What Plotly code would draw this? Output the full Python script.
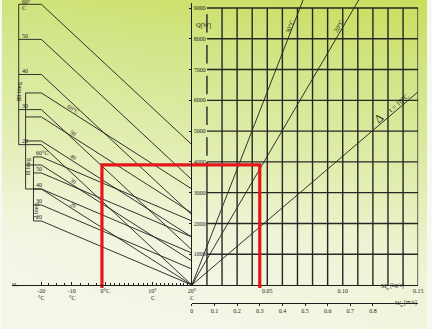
import math
import numpy as np
import plotly.graph_objects as go

# ---------------- data ----------------
SPEEDS = ["III bieg", "II bieg", "I bieg"]
SPEED_K = [114, 78, 52]                  # W/K  (heat output per K of t_w - t_air)
WATER_TEMPS = [60, 50, 40, 30, 20]       # °C
T_AIR_START, T_AIR_END = -20, 20         # °C

T_TICKS = [-20, -10, 0, 10, 20]
T_TICK_TEXT = ["-20", "-10", "0°C", "10°", "20°"]
T_TICK_UNIT = ["°C", "°C", "", "C", "C"]
T_MINOR = [-17.5, -15, -12.5, -7.5, -5, -2.5, 1, 2, 3, 4, 5, 6, 7, 8, 9,
           11, 12, 13, 14, 15, 16, 17, 18, 19]

DELTA_T = [30, 20, 10]                   # K
DELTA_LABELS = ["30°C", "20°C", "t = 10°C"]
CP_WATER = 4186                          # J/(kg K)

Q_TICKS = [1000, 2000, 3000, 4000, 5000, 6000, 7000, 8000, 9000]
M_GRID = [0.01, 0.02, 0.03, 0.04, 0.05, 0.06, 0.07, 0.08, 0.09, 0.10,
          0.11, 0.12, 0.13, 0.14, 0.15]
M_TICKS = [0.05, 0.10, 0.15]
M_TICK_TEXT = ["0.05", "0.10", "0.15"]
W_TICKS = [0, 0.1, 0.2, 0.3, 0.4, 0.5, 0.6, 0.7, 0.8]
W_TICK_TEXT = ["0", "0.1", "0.2", "0.3", "0.4", "0.5", "0.6", "0.7", "0.8"]
M_PER_W = 0.15                           # kg/s per m/s

EX_Q, EX_T, EX_W = 3900, -1.0, 0.3       # worked example (red)

# ---------------- layout constants (pixels of the 432x329 canvas) ----------------
W, H = 432, 329
X_LEFT0, X_AXIS, X_RIGHT = 10, 193, 423
Y_Q0, Y_QTOP = 285, 8
Y_WAXIS = 302.7
Q_PER_PX = 9000 / (Y_Q0 - Y_QTOP)
Q_AXIS_TOP = 9150
T_SCALE_U = [40, 71, 105, 153, 193]      # nomogram scale positions of T_TICKS
BRACKET_U = [17, 24, 32]
LINE_LABEL_U = 72
INK = "#1d1d1d"
TXT = "#222222"
RED = "#e3171c"
FONT = "Liberation Serif"


def tpos(t):
    return float(np.interp(t, T_TICKS, T_SCALE_U))


def px(x):
    return x / W


def py(y):
    return 1 - y / H


Y2_RANGE = [(Y_Q0 - H) * Q_PER_PX, Y_Q0 * Q_PER_PX]
RED_BOTTOM = -3 * Q_PER_PX

fig = go.Figure()

# background gradient
BG_X = [0, 0.25, 0.5, 0.75, 1]
BG_Y = [0, 0.25, 0.5, 0.75, 1]
BG_Z = [[0.05, 0.05, 0.07, 0.12, 0.20],
        [0.10, 0.15, 0.20, 0.28, 0.35],
        [0.42, 0.45, 0.50, 0.55, 0.60],
        [0.65, 0.68, 0.72, 0.76, 0.80],
        [0.85, 0.90, 0.93, 0.97, 1.00]]
BG_SCALE = [[0, "#f6f7ef"], [0.3, "#eef4d4"], [0.55, "#e0edae"],
            [0.8, "#d2e588"], [1, "#c9de5c"]]
fig.add_trace(go.Heatmap(x=BG_X, y=BG_Y, z=BG_Z, colorscale=BG_SCALE, zmin=0, zmax=1,
                         zsmooth="best", showscale=False, hoverinfo="skip",
                         xaxis="x", yaxis="y"))

# left panel: fan-speed lines
xs, ys = [], []
for k, ub in zip(SPEED_K, BRACKET_U):
    for tw in WATER_TEMPS:
        q0 = k * (tw - T_AIR_START)
        q1 = k * (tw - T_AIR_END)
        xs += [ub, tpos(T_AIR_START), tpos(T_AIR_END), None]
        ys += [q0, q0, q1, None]
    xs += [ub, ub, None]
    ys += [k * (WATER_TEMPS[0] - T_AIR_START), k * (WATER_TEMPS[-1] - T_AIR_START), None]
fig.add_trace(go.Scatter(x=xs, y=ys, mode="lines", line=dict(color=INK, width=0.9),
                         hoverinfo="skip", xaxis="x2", yaxis="y2", showlegend=False))

# right panel grid
gx, gy = [], []
for q in Q_TICKS:
    gx += [M_GRID[0], M_GRID[-1], None]
    gy += [q, q, None]
for m in M_GRID[1:]:
    gx += [m, m, None]
    gy += [0, Q_TICKS[-1], None]
gx += [M_GRID[0], M_GRID[0], None]
gy += [0, 4000, None]
for q in Q_TICKS[3:8]:
    gx += [M_GRID[0], M_GRID[0], None]
    gy += [q + 200, q + 800, None]
fig.add_trace(go.Scatter(x=gx, y=gy, mode="lines", line=dict(color="#262626", width=1.4),
                         hoverinfo="skip", xaxis="x3", yaxis="y3", showlegend=False))

# right panel: Q = cp * dT * M
for dt in DELTA_T:
    m_end = min(M_GRID[-1], Y2_RANGE[1] / (CP_WATER * dt))
    fig.add_trace(go.Scatter(x=[0, m_end], y=[0, CP_WATER * dt * m_end], mode="lines",
                             line=dict(color=INK, width=0.9), hoverinfo="skip",
                             xaxis="x3", yaxis="y2", showlegend=False))

# red worked example
fig.add_trace(go.Scatter(x=[tpos(EX_T), tpos(EX_T), tpos(T_AIR_END)],
                         y=[RED_BOTTOM, EX_Q, EX_Q], mode="lines",
                         line=dict(color=RED, width=3.2), hoverinfo="skip",
                         xaxis="x2", yaxis="y2", showlegend=False))
fig.add_trace(go.Scatter(x=[0, EX_W, EX_W], y=[EX_Q, EX_Q, RED_BOTTOM], mode="lines",
                         line=dict(color=RED, width=3.2), hoverinfo="skip",
                         xaxis="x4", yaxis="y2", showlegend=False))

ann = []


def fnt(size):
    return dict(family=FONT, size=size, color=TXT)


# stub labels: III bieg
k3 = SPEED_K[0]
ann.append(dict(x=BRACKET_U[0] + 1.5, y=k3 * (WATER_TEMPS[0] - T_AIR_START), xref="x2", yref="y2",
                text="60°", showarrow=False, xanchor="left", yshift=2.5, font=fnt(6)))
ann.append(dict(x=BRACKET_U[0] + 1.5, y=k3 * (WATER_TEMPS[0] - T_AIR_START), xref="x2", yref="y2",
                text="C", showarrow=False, xanchor="left", yshift=-3.5, font=fnt(6)))
for tw in WATER_TEMPS[1:]:
    ann.append(dict(x=BRACKET_U[0] + 1.5, y=k3 * (tw - T_AIR_START), xref="x2", yref="y2",
                    text=str(tw), showarrow=False, xanchor="left", yshift=3.5, font=fnt(6)))
# stub labels: I bieg
k1 = SPEED_K[2]
for i, tw in enumerate(WATER_TEMPS):
    ann.append(dict(x=BRACKET_U[2] + 1, y=k1 * (tw - T_AIR_START), xref="x2", yref="y2",
                    text="60°C" if i == 0 else str(tw), showarrow=False,
                    xanchor="left", yshift=3.5, font=fnt(6)))
# line labels: II bieg
k2 = SPEED_K[1]
u0, u1 = tpos(T_AIR_START), tpos(T_AIR_END)
for i, tw in enumerate(WATER_TEMPS):
    q0 = k2 * (tw - T_AIR_START)
    q1 = k2 * (tw - T_AIR_END)
    q = q0 + (LINE_LABEL_U - u0) / (u1 - u0) * (q1 - q0)
    ang = math.degrees(math.atan(((q0 - q1) / Q_PER_PX) / (u1 - u0)))
    ann.append(dict(x=LINE_LABEL_U, y=q, xref="x2", yref="y2",
                    text="60°C" if i == 0 else str(tw), showarrow=False,
                    textangle=ang, yshift=4, font=fnt(6)))

# second line of the temperature tick labels
for t, unit in zip(T_TICKS, T_TICK_UNIT):
    if unit:
        ann.append(dict(x=tpos(t), y=0, xref="x2", yref="y2", text=unit, showarrow=False,
                        yanchor="middle", yshift=-13, font=fnt(6)))

# fan-speed bracket labels
for name, (bx, by) in zip(SPEEDS, [(12, 79), (20, 166), (28, 210)]):
    ann.append(dict(x=px(bx), y=py(by), xref="paper", yref="paper", text=name,
                    textangle=-90, showarrow=False, font=fnt(6.5)))

ann.append(dict(x=px(8), y=py(290), xref="paper", yref="paper", text="φ₁",
                showarrow=False, font=fnt(7)))
ann.append(dict(x=px(205), y=py(19), xref="paper", yref="paper", text="Q[W]",
                showarrow=False, font=fnt(6.5)))
ann.append(dict(x=px(383), y=py(290.5), xref="paper", yref="paper", text="Ṁ",
                showarrow=False, xanchor="left", font=fnt(6.5)))
ann.append(dict(x=px(388.5), y=py(292.5), xref="paper", yref="paper", text="w",
                showarrow=False, xanchor="left", font=fnt(4.5)))
ann.append(dict(x=px(392.5), y=py(291), xref="paper", yref="paper", text="[kg/s]",
                showarrow=False, xanchor="left", font=fnt(6)))
ann.append(dict(x=px(397), y=py(308), xref="paper", yref="paper", text="W",
                showarrow=False, xanchor="left", font=fnt(6.5)))
ann.append(dict(x=px(403), y=py(310), xref="paper", yref="paper", text="w",
                showarrow=False, xanchor="left", font=fnt(4.5)))
ann.append(dict(x=px(407), y=py(308), xref="paper", yref="paper", text="[m/s]",
                showarrow=False, xanchor="left", font=fnt(6)))

# delta-T labels
ppm = (X_RIGHT - X_AXIS) / (M_GRID[-1] - 0)
label_spec = [(8400, -3, 0, 6.5), (8400, -5, 0, 6.5), (5780, -1, 4, 7)]
for dt, lab, (ql, xs_, ys_, fs) in zip(DELTA_T, DELTA_LABELS, label_spec):
    m = ql / (CP_WATER * dt)
    slope_px = (CP_WATER * dt / Q_PER_PX) / ppm
    ang = -math.degrees(math.atan(slope_px))
    ann.append(dict(x=m, y=ql, xref="x3", yref="y2", text=lab, showarrow=False,
                    textangle=ang, xshift=xs_, yshift=ys_, font=fnt(fs)))
    if dt == DELTA_T[-1]:
        qd = 5230
        ann.append(dict(x=qd / (CP_WATER * dt), y=qd, xref="x3", yref="y2", text="Δ",
                        showarrow=False, textangle=ang, xshift=-1, yshift=6, font=fnt(12)))

tickfont = fnt(6)
fig.update_layout(
    width=W, height=H, margin=dict(l=0, r=0, t=0, b=0),
    paper_bgcolor="#f7f8f1", plot_bgcolor="rgba(0,0,0,0)", showlegend=False,
    xaxis=dict(domain=[0, 1], range=[0, 1], visible=False),
    yaxis=dict(domain=[0, 1], range=[0, 1], visible=False),
    xaxis2=dict(domain=[px(X_LEFT0), px(X_AXIS)], range=[X_LEFT0, X_AXIS],
                anchor="free", position=py(Y_Q0), showline=True, linecolor=INK, linewidth=1.2,
                showgrid=False, zeroline=False, tickmode="array",
                tickvals=[tpos(t) for t in T_TICKS], ticktext=T_TICK_TEXT,
                ticks="inside", ticklen=3, tickcolor=INK, tickfont=tickfont,
                minor=dict(tickmode="array", tickvals=[tpos(t) for t in T_MINOR],
                           ticks="inside", ticklen=1.5, tickcolor=INK)),
    yaxis2=dict(domain=[0, 1], range=Y2_RANGE, anchor="x2", visible=False),
    xaxis3=dict(domain=[px(X_AXIS), px(X_RIGHT)], range=[0, M_GRID[-1]], anchor="y3",
                showline=True, linecolor=INK, linewidth=1.3, showgrid=False, zeroline=False,
                tickmode="array", tickvals=M_TICKS, ticktext=M_TICK_TEXT, ticks="",
                tickfont=tickfont),
    yaxis3=dict(domain=[py(Y_Q0), py(Y_Q0 - Q_AXIS_TOP / Q_PER_PX)], range=[0, Q_AXIS_TOP],
                anchor="x3",
                showline=True, linecolor=INK, linewidth=1.2, showgrid=False, zeroline=False,
                tickmode="array", tickvals=Q_TICKS, ticktext=[str(q) for q in Q_TICKS],
                ticks="outside", ticklen=2, tickcolor=INK,
                ticklabelposition="inside", tickfont=fnt(6)),
    xaxis4=dict(domain=[px(X_AXIS), px(X_RIGHT)], range=[0, M_GRID[-1] / M_PER_W],
                anchor="free", position=py(Y_WAXIS), showline=True, linecolor=INK,
                linewidth=1, showgrid=False, zeroline=False, tickmode="array",
                tickvals=W_TICKS, ticktext=W_TICK_TEXT, ticks="outside", ticklen=2,
                tickcolor=INK, tickfont=tickfont),
    annotations=ann,
)

fig.write_html("out.html", config={"displayModeBar": False},
               post_script="document.body.style.margin='0';document.body.style.overflow='hidden';")
